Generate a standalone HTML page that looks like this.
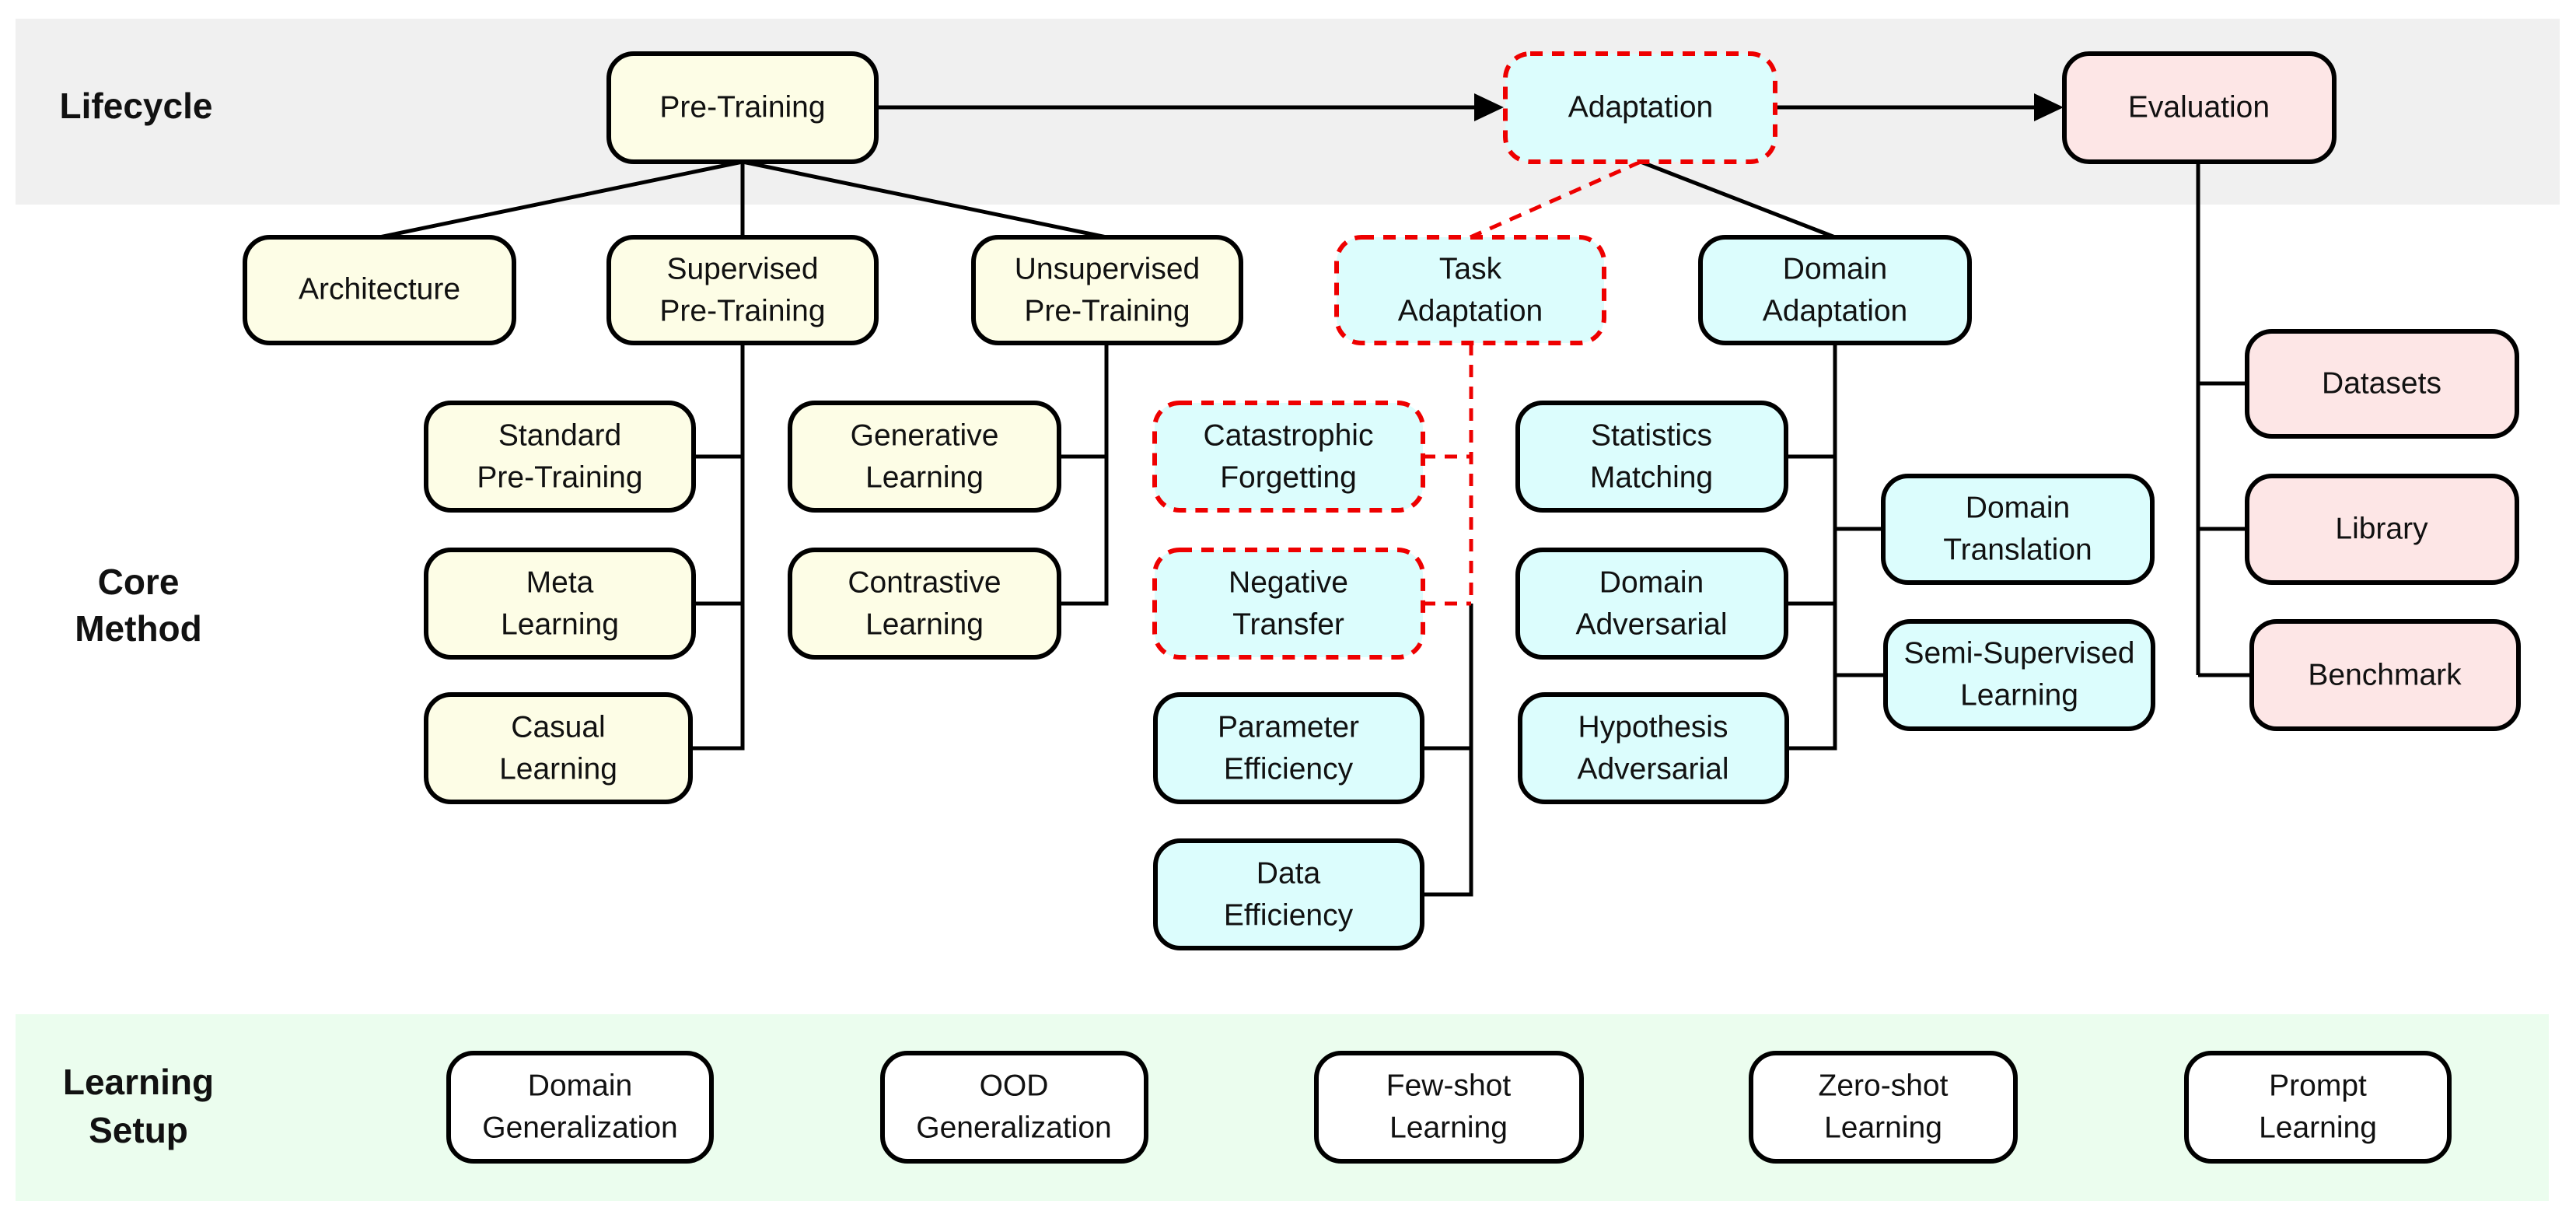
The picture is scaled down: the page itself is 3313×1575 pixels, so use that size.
<!DOCTYPE html>
<html><head><meta charset="utf-8"><style>
html,body{margin:0;padding:0;background:#fff}
svg{display:block}
text{font-family:"Liberation Sans",sans-serif;font-size:39px;fill:#111;text-anchor:middle;dominant-baseline:middle}
.h{font-weight:bold;font-size:46px}
.b{stroke:#000;stroke-width:6}
.y{fill:#fdfde6}.c{fill:#dcfdfd}.p{fill:#fde6e6}.w{fill:#fff}
.d{stroke:#e00;stroke-width:6;stroke-dasharray:16 12}
.l{stroke:#000;stroke-width:5;fill:none}
.dl{stroke:#e00;stroke-width:5;fill:none;stroke-dasharray:16 12}
</style></head><body>
<svg width="3313" height="1575" viewBox="0 0 3313 1575" xmlns="http://www.w3.org/2000/svg">
<rect x="20" y="24" width="3272" height="239" fill="#f0f0f0"/>
<rect x="20" y="1304" width="3258" height="240" fill="#ebfdee"/>
<text class="h" x="175" y="140">Lifecycle</text>
<text class="h" x="178" y="752">Core</text>
<text class="h" x="178" y="812">Method</text>
<text class="h" x="178" y="1395">Learning</text>
<text class="h" x="178" y="1457">Setup</text>

<g class="l">
<line x1="955" y1="208" x2="488" y2="305"/>
<line x1="955" y1="208" x2="955" y2="305"/>
<line x1="955" y1="208" x2="1423" y2="305"/>
<line x1="1127" y1="138" x2="1900" y2="138"/>
<line x1="2283" y1="138" x2="2620" y2="138"/>
<line x1="2110" y1="208" x2="2360" y2="305"/>
<polyline points="955,441 955,962 888,962"/>
<line x1="892" y1="587" x2="955" y2="587"/>
<line x1="892" y1="776" x2="955" y2="776"/>
<polyline points="1423,441 1423,776 1362,776"/>
<line x1="1362" y1="587" x2="1423" y2="587"/>
<polyline points="1892,776 1892,1150 1829,1150"/>
<line x1="1829" y1="962" x2="1892" y2="962"/>
<polyline points="2360,441 2360,962 2298,962"/>
<line x1="2297" y1="587" x2="2360" y2="587"/>
<line x1="2297" y1="776" x2="2360" y2="776"/>
<line x1="2360" y1="680" x2="2422" y2="680"/>
<line x1="2360" y1="868" x2="2425" y2="868"/>
<line x1="2827" y1="208" x2="2827" y2="868"/>
<line x1="2827" y1="493" x2="2890" y2="493"/>
<line x1="2827" y1="680" x2="2890" y2="680"/>
<line x1="2827" y1="868" x2="2896" y2="868"/>
</g>
<polygon points="1896,120 1934,138 1896,156" fill="#000"/>
<polygon points="2616,120 2654,138 2616,156" fill="#000"/>
<g class="dl">
<line x1="2110" y1="208" x2="1891" y2="305"/>
<line x1="1892" y1="441" x2="1892" y2="776"/>
<line x1="1830" y1="587" x2="1892" y2="587"/>
<line x1="1830" y1="776" x2="1892" y2="776"/>
</g>

<g class="b">
<rect class="y" x="783" y="69" width="344" height="139" rx="32"/>
<rect class="y" x="315" y="305" width="346" height="136" rx="32"/>
<rect class="y" x="783" y="305" width="344" height="136" rx="32"/>
<rect class="y" x="1252" y="305" width="344" height="136" rx="32"/>
<rect class="y" x="548" y="518" width="344" height="138" rx="32"/>
<rect class="y" x="548" y="707" width="344" height="138" rx="32"/>
<rect class="y" x="548" y="893" width="340" height="138" rx="32"/>
<rect class="y" x="1016" y="518" width="346" height="138" rx="32"/>
<rect class="y" x="1016" y="707" width="346" height="138" rx="32"/>
<rect class="c" x="1486" y="893" width="343" height="138" rx="32"/>
<rect class="c" x="1486" y="1081" width="343" height="138" rx="32"/>
<rect class="c" x="2187" y="305" width="346" height="136" rx="32"/>
<rect class="c" x="1952" y="518" width="345" height="138" rx="32"/>
<rect class="c" x="1952" y="707" width="345" height="138" rx="32"/>
<rect class="c" x="1955" y="893" width="343" height="138" rx="32"/>
<rect class="c" x="2422" y="612" width="346" height="137" rx="32"/>
<rect class="c" x="2425" y="799" width="344" height="138" rx="32"/>
<rect class="p" x="2655" y="69" width="347" height="139" rx="32"/>
<rect class="p" x="2890" y="426" width="347" height="135" rx="32"/>
<rect class="p" x="2890" y="612" width="347" height="137" rx="32"/>
<rect class="p" x="2896" y="799" width="343" height="138" rx="32"/>
<rect class="w" x="577" y="1354" width="338" height="139" rx="32"/>
<rect class="w" x="1135" y="1354" width="339" height="139" rx="32"/>
<rect class="w" x="1693" y="1354" width="341" height="139" rx="32"/>
<rect class="w" x="2252" y="1354" width="340" height="139" rx="32"/>
<rect class="w" x="2812" y="1354" width="338" height="139" rx="32"/>
</g>
<g class="d">
<rect class="c" x="1936" y="69" width="347" height="139" rx="32"/>
<rect class="c" x="1719" y="305" width="344" height="136" rx="32"/>
<rect class="c" x="1485" y="518" width="345" height="138" rx="32"/>
<rect class="c" x="1485" y="707" width="345" height="138" rx="32"/>
</g>

<text x="955" y="140">Pre-Training</text>
<text x="2110" y="140">Adaptation</text>
<text x="2828" y="140">Evaluation</text>
<text x="488" y="374">Architecture</text>
<text x="955" y="348">Supervised</text><text x="955" y="402">Pre-Training</text>
<text x="1424" y="348">Unsupervised</text><text x="1424" y="402">Pre-Training</text>
<text x="1891" y="348">Task</text><text x="1891" y="402">Adaptation</text>
<text x="2360" y="348">Domain</text><text x="2360" y="402">Adaptation</text>
<text x="720" y="562">Standard</text><text x="720" y="616">Pre-Training</text>
<text x="720" y="751">Meta</text><text x="720" y="805">Learning</text>
<text x="718" y="937">Casual</text><text x="718" y="991">Learning</text>
<text x="1189" y="562">Generative</text><text x="1189" y="616">Learning</text>
<text x="1189" y="751">Contrastive</text><text x="1189" y="805">Learning</text>
<text x="1657" y="562">Catastrophic</text><text x="1657" y="616">Forgetting</text>
<text x="1657" y="751">Negative</text><text x="1657" y="805">Transfer</text>
<text x="1657" y="937">Parameter</text><text x="1657" y="991">Efficiency</text>
<text x="1657" y="1125">Data</text><text x="1657" y="1179">Efficiency</text>
<text x="2124" y="562">Statistics</text><text x="2124" y="616">Matching</text>
<text x="2124" y="751">Domain</text><text x="2124" y="805">Adversarial</text>
<text x="2126" y="937">Hypothesis</text><text x="2126" y="991">Adversarial</text>
<text x="2595" y="655">Domain</text><text x="2595" y="709">Translation</text>
<text x="2597" y="842">Semi-Supervised</text><text x="2597" y="896">Learning</text>
<text x="3063" y="495">Datasets</text>
<text x="3063" y="682">Library</text>
<text x="3067" y="870">Benchmark</text>
<text x="746" y="1398">Domain</text><text x="746" y="1452">Generalization</text>
<text x="1304" y="1398">OOD</text><text x="1304" y="1452">Generalization</text>
<text x="1863" y="1398">Few-shot</text><text x="1863" y="1452">Learning</text>
<text x="2422" y="1398">Zero-shot</text><text x="2422" y="1452">Learning</text>
<text x="2981" y="1398">Prompt</text><text x="2981" y="1452">Learning</text>
</svg>
</body></html>
